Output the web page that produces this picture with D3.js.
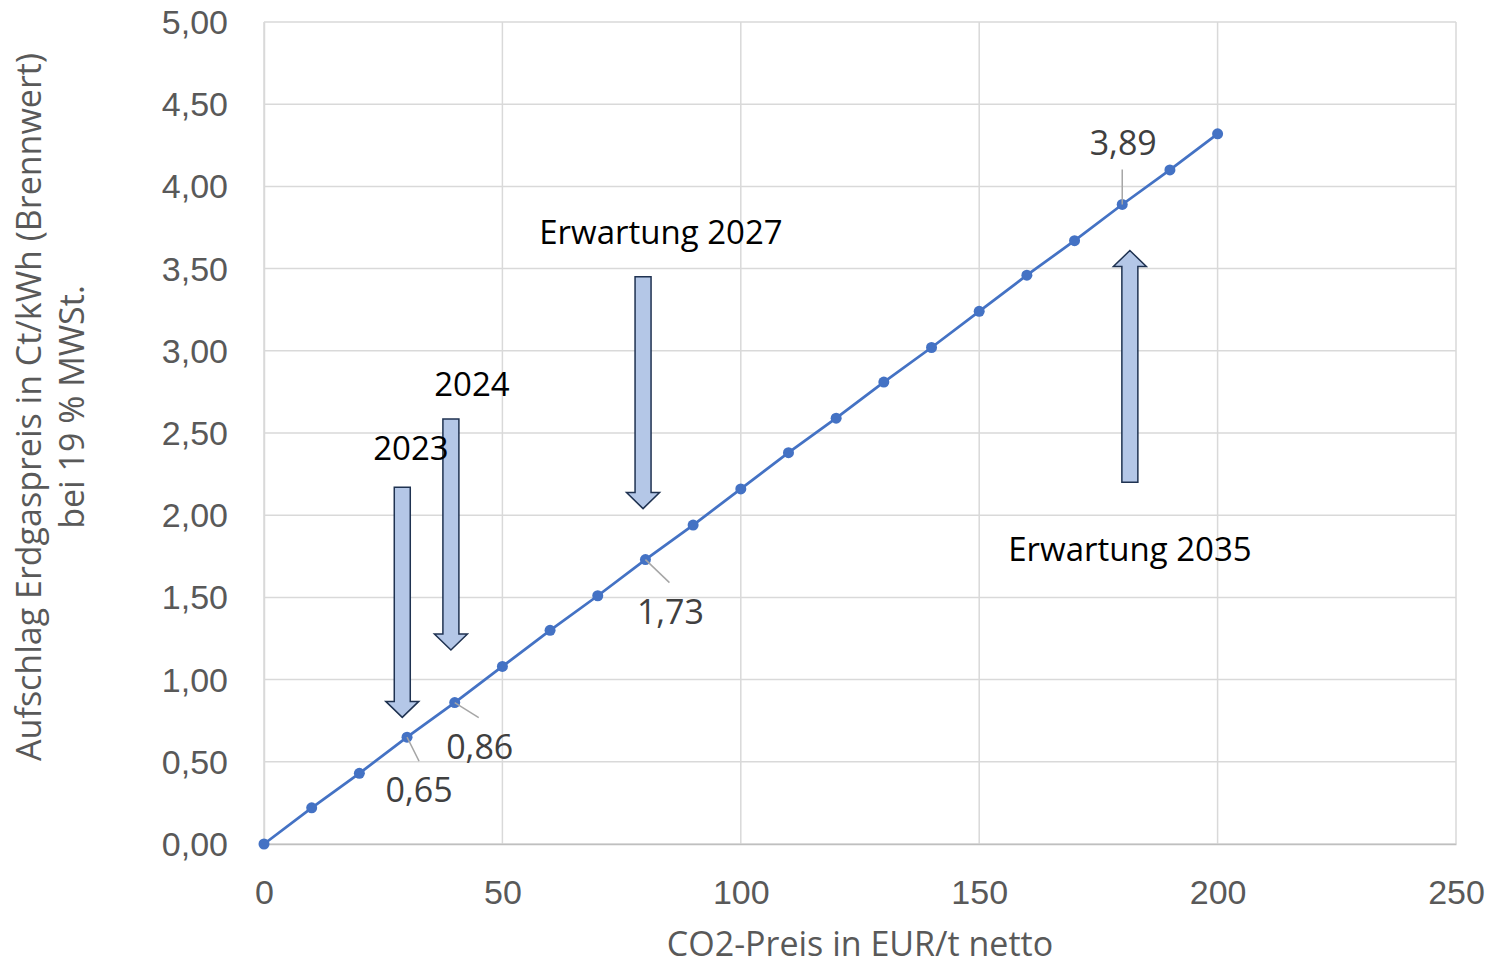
<!DOCTYPE html>
<html>
<head>
<meta charset="utf-8">
<script src="https://cdn.jsdelivr.net/npm/d3@7"></script>
<style>
  body { margin: 0; background: #fff; }
  svg { font-family: "Open Sans", sans-serif; }
  .tick text { fill: #595959; font-size: 34px; }
  .axis-label { fill: #595959; font-size: 34px; }
  .note { fill: #000; font-size: 33px; }
  .val { fill: #404040; font-size: 34px; }
</style>
</head>
<body>
<svg width="1489" height="965"></svg>
<script>
// data
const co2Price = [0, 10, 20, 30, 40, 50, 60, 70, 80, 90, 100, 110, 120, 130, 140, 150, 160, 170, 180, 190, 200];
const surcharge = [0, 0.22, 0.43, 0.65, 0.86, 1.08, 1.30, 1.51, 1.73, 1.94, 2.16, 2.38, 2.59, 2.81, 3.02, 3.24, 3.46, 3.67, 3.89, 4.10, 4.32];
const xTicks = [0, 50, 100, 150, 200, 250];
const yTicks = [0, 0.5, 1, 1.5, 2, 2.5, 3, 3.5, 4, 4.5, 5];
const labelled = [30, 40, 80, 180];   // points with a value label

// annotation arrows (data units): x, start value, tip value
const arrowX = [29, 39.2, 79.5, 181.6];
const arrowFrom = [2.17, 2.585, 3.45, 2.20];
const arrowTo = [0.77, 1.18, 2.04, 3.61];
const noteText = ["2023", "2024", "Erwartung 2027", "Erwartung 2035"];

const data = co2Price.map((p, i) => ({x: p, y: surcharge[i]}));

// dimensions
const margin = {top: 22, right: 33, bottom: 121, left: 264};
const width = 1489 - margin.left - margin.right;
const height = 965 - margin.top - margin.bottom;

const svg = d3.select("svg")
  .append("g")
  .attr("transform", `translate(${margin.left},${margin.top})`);

const x = d3.scaleLinear().domain([0, 250]).range([0, width]);
const y = d3.scaleLinear().domain([0, 5]).range([height, 0]);

const fmt = d => d3.format(".2f")(d).replace(".", ",");

// grid
svg.append("g")
  .selectAll("line")
  .data(yTicks)
  .enter().append("line")
  .attr("x1", 0).attr("x2", width)
  .attr("y1", d => y(d)).attr("y2", d => y(d))
  .attr("stroke", "#d9d9d9").attr("stroke-width", 1.5);

svg.append("g")
  .selectAll("line")
  .data(xTicks)
  .enter().append("line")
  .attr("x1", d => x(d)).attr("x2", d => x(d))
  .attr("y1", 0).attr("y2", height)
  .attr("stroke", "#d9d9d9").attr("stroke-width", 1.5);

// x-axis
const xAxis = svg.append("g")
  .attr("transform", `translate(0,${height})`)
  .call(d3.axisBottom(x).tickValues(xTicks).tickSize(0).tickPadding(36));
xAxis.select(".domain").attr("stroke", "#bfbfbf").attr("stroke-width", 1.5);

// y-axis
const yAxis = svg.append("g")
  .call(d3.axisLeft(y).tickValues(yTicks).tickFormat(fmt).tickSize(0).tickPadding(36));
yAxis.select(".domain").attr("stroke", "#d9d9d9").attr("stroke-width", 1.5);
yAxis.selectAll(".tick text").attr("dy", "0.34em");

// axis labels
svg.append("text")
  .attr("class", "axis-label")
  .attr("x", 860 - margin.left)
  .attr("y", height + 112)
  .attr("text-anchor", "middle")
  .text("CO2-Preis in EUR/t netto");

svg.append("text")
  .attr("class", "axis-label")
  .attr("transform", "rotate(-90)")
  .attr("x", -(385))
  .attr("y", -223)
  .attr("text-anchor", "middle")
  .text("Aufschlag Erdgaspreis in Ct/kWh (Brennwert)");

svg.append("text")
  .attr("class", "axis-label")
  .attr("transform", "rotate(-90)")
  .attr("x", -(385))
  .attr("y", -180)
  .attr("text-anchor", "middle")
  .text("bei 19 % MWSt.");

// line
svg.append("path")
  .datum(data)
  .attr("fill", "none")
  .attr("stroke", "#4472c4")
  .attr("stroke-width", 2.75)
  .attr("d", d3.line().x(d => x(d.x)).y(d => y(d.y)));

svg.selectAll(".dot")
  .data(data)
  .enter().append("circle")
  .attr("class", "dot")
  .attr("cx", d => x(d.x))
  .attr("cy", d => y(d.y))
  .attr("r", 5.5)
  .attr("fill", "#4472c4");

// value labels with leader lines
const labelPos = {
  30: {dx: 12, dy: 24, tx: 12, ty: 65},
  40: {dx: 24, dy: 15, tx: 25, ty: 56},
  80: {dx: 24, dy: 23, tx: 25, ty: 64},
  180: {dx: 0, dy: -35, tx: 1, ty: -49}
};
const lab = data.filter(d => labelled.includes(d.x));

svg.selectAll(".leader")
  .data(lab)
  .enter().append("line")
  .attr("x1", d => x(d.x))
  .attr("y1", d => y(d.y))
  .attr("x2", d => x(d.x) + labelPos[d.x].dx)
  .attr("y2", d => y(d.y) + labelPos[d.x].dy)
  .attr("stroke", "#a6a6a6")
  .attr("stroke-width", 1.5);

svg.selectAll(".val")
  .data(lab)
  .enter().append("text")
  .attr("class", "val")
  .attr("x", d => x(d.x) + labelPos[d.x].tx)
  .attr("y", d => y(d.y) + labelPos[d.x].ty)
  .attr("text-anchor", "middle")
  .text(d => fmt(d.y));

// block arrows
const shaft = 8, headW = 16.5, headL = 16;
function arrowPath(cx, y0, y1) {
  const dir = y1 > y0 ? 1 : -1;
  const yb = y1 - dir * headL;
  return `M${cx - shaft},${y0} L${cx + shaft},${y0} L${cx + shaft},${yb} L${cx + headW},${yb}` +
         ` L${cx},${y1} L${cx - headW},${yb} L${cx - shaft},${yb} Z`;
}

svg.selectAll(".arrow")
  .data(arrowX)
  .enter().append("path")
  .attr("class", "arrow")
  .attr("d", (d, i) => arrowPath(x(d), y(arrowFrom[i]), y(arrowTo[i])))
  .attr("fill", "#b4c7e7")
  .attr("stroke", "#1f3251")
  .attr("stroke-width", 1.5);

// notes
const notePos = [[411, 460], [472, 396], [661, 244], [1130, 561]];
svg.selectAll(".note")
  .data(noteText)
  .enter().append("text")
  .attr("class", "note")
  .attr("x", (d, i) => notePos[i][0] - margin.left)
  .attr("y", (d, i) => notePos[i][1] - margin.top)
  .attr("text-anchor", "middle")
  .text(d => d);
</script>
</body>
</html>
